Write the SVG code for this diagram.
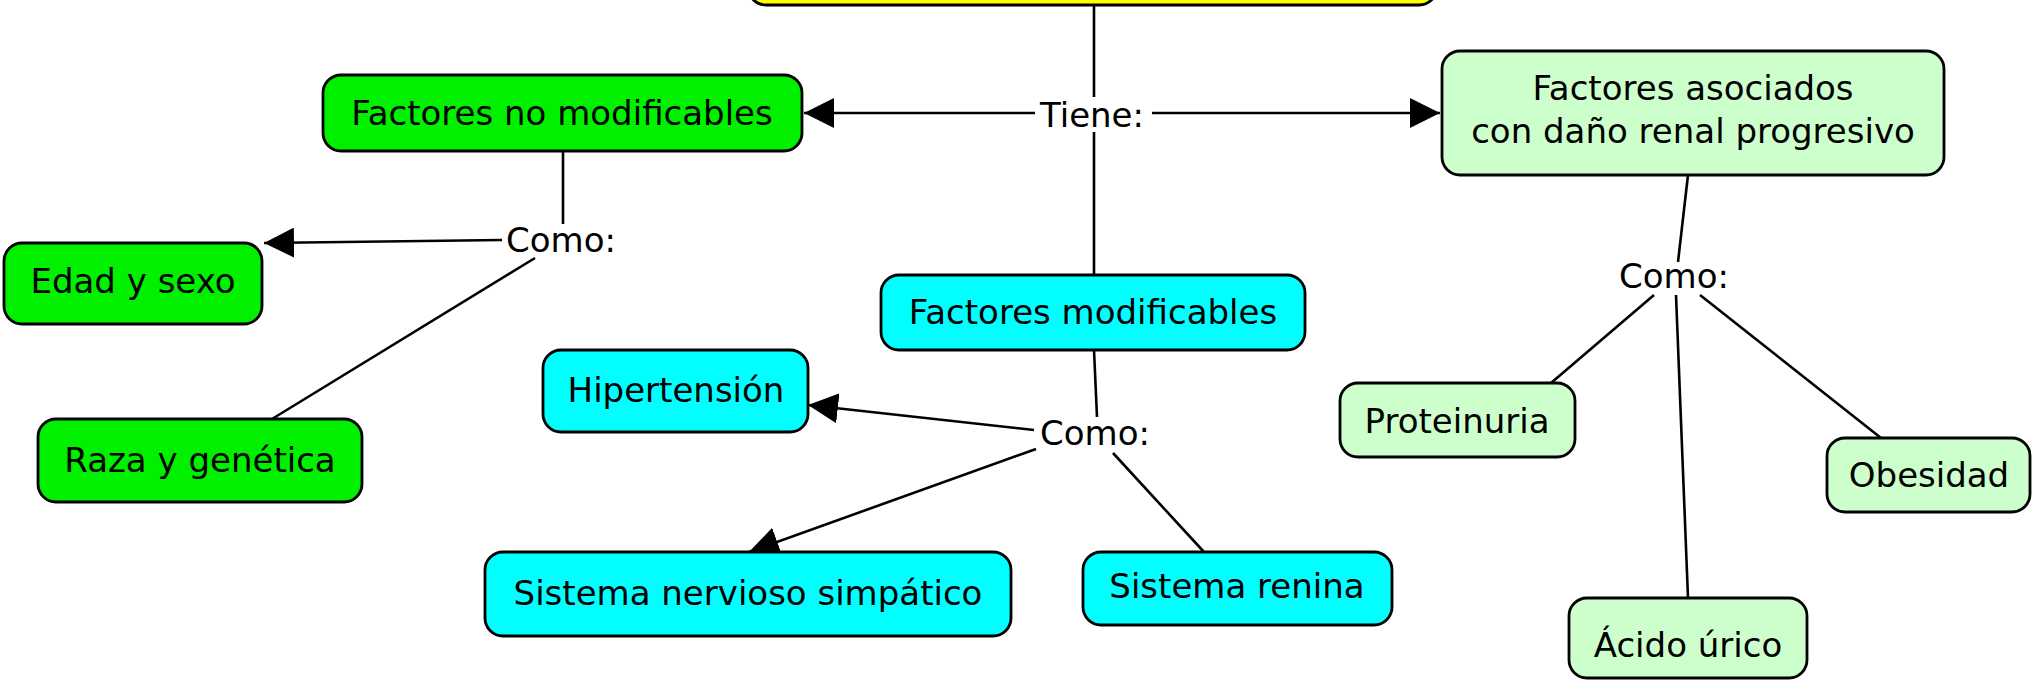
<svg xmlns="http://www.w3.org/2000/svg" width="2032" height="680" viewBox="0 0 2032 680">
<defs>
<style>
.box{stroke:#000;stroke-width:2.8}
.g{fill:#00f000}
.lg{fill:#ccffcc}
.c{fill:#00ffff}
.y{fill:#ffff00}
text{font-family:"DejaVu Sans",Verdana,sans-serif;font-size:34px;fill:#000;text-anchor:middle}
.con{stroke:#000;stroke-width:2.6;fill:none}
</style>
<marker id="ah" markerUnits="userSpaceOnUse" markerWidth="30" markerHeight="30" refX="30" refY="15" orient="auto">
<path d="M0,0 L30,15 L0,30 Z" fill="#000"/>
</marker>
</defs>
<rect width="2032" height="680" fill="#fff"/>
<g id="connectors">
<line class="con" x1="1094" y1="5" x2="1094" y2="97"/>
<line class="con" x1="1094" y1="132" x2="1094" y2="275"/>
<line class="con" x1="1035" y1="113" x2="804" y2="113" marker-end="url(#ah)"/>
<line class="con" x1="1152" y1="113" x2="1440" y2="113" marker-end="url(#ah)"/>
<line class="con" x1="563" y1="151" x2="563" y2="224"/>
<line class="con" x1="502" y1="240" x2="264" y2="243" marker-end="url(#ah)"/>
<line class="con" x1="535" y1="258" x2="272" y2="419"/>
<line class="con" x1="1094" y1="350" x2="1097" y2="417"/>
<line class="con" x1="1034" y1="430" x2="808" y2="405" marker-end="url(#ah)"/>
<line class="con" x1="1036" y1="449" x2="749" y2="552" marker-end="url(#ah)"/>
<line class="con" x1="1113" y1="453" x2="1204" y2="552"/>
<line class="con" x1="1688" y1="175" x2="1678" y2="262"/>
<line class="con" x1="1654" y1="295" x2="1551" y2="383"/>
<line class="con" x1="1676" y1="295" x2="1688" y2="598"/>
<line class="con" x1="1700" y1="295" x2="1881" y2="438"/>
</g>
<g id="main">
<rect class="box y" x="748" y="-40" width="689" height="45" rx="18"/>
</g>
<g id="tiene"><text x="1092" y="127">Tiene:</text></g>
<g id="como1"><text x="561" y="252">Como:</text></g>
<g id="como2"><text x="1095" y="445">Como:</text></g>
<g id="como3"><text x="1674" y="288">Como:</text></g>
<g id="no-modificables">
<rect class="box g" x="323" y="75" width="479" height="76" rx="18"/>
<text x="562" y="125">Factores no modificables</text>
</g>
<g id="asociados">
<rect class="box lg" x="1442" y="51" width="502" height="124" rx="18"/>
<text x="1693" y="100">Factores asociados</text>
<text x="1693" y="143">con daño renal progresivo</text>
</g>
<g id="edad">
<rect class="box g" x="4" y="243" width="258" height="81" rx="18"/>
<text x="133" y="293">Edad y sexo</text>
</g>
<g id="raza">
<rect class="box g" x="38" y="419" width="324" height="83" rx="18"/>
<text x="200" y="472">Raza y genética</text>
</g>
<g id="modificables">
<rect class="box c" x="881" y="275" width="424" height="75" rx="18"/>
<text x="1093" y="324">Factores modificables</text>
</g>
<g id="hipertension">
<rect class="box c" x="543" y="350" width="265" height="82" rx="18"/>
<text x="676" y="402">Hipertensión</text>
</g>
<g id="simpatico">
<rect class="box c" x="485" y="552" width="526" height="84" rx="18"/>
<text x="748" y="605">Sistema nervioso simpático</text>
</g>
<g id="renina">
<rect class="box c" x="1083" y="552" width="309" height="73" rx="18"/>
<text x="1237" y="598">Sistema renina</text>
</g>
<g id="proteinuria">
<rect class="box lg" x="1340" y="383" width="235" height="74" rx="18"/>
<text x="1457" y="433">Proteinuria</text>
</g>
<g id="acido">
<rect class="box lg" x="1569" y="598" width="238" height="80" rx="18"/>
<text x="1688" y="657">Ácido úrico</text>
</g>
<g id="obesidad">
<rect class="box lg" x="1827" y="438" width="203" height="74" rx="18"/>
<text x="1929" y="487">Obesidad</text>
</g>
</svg>
